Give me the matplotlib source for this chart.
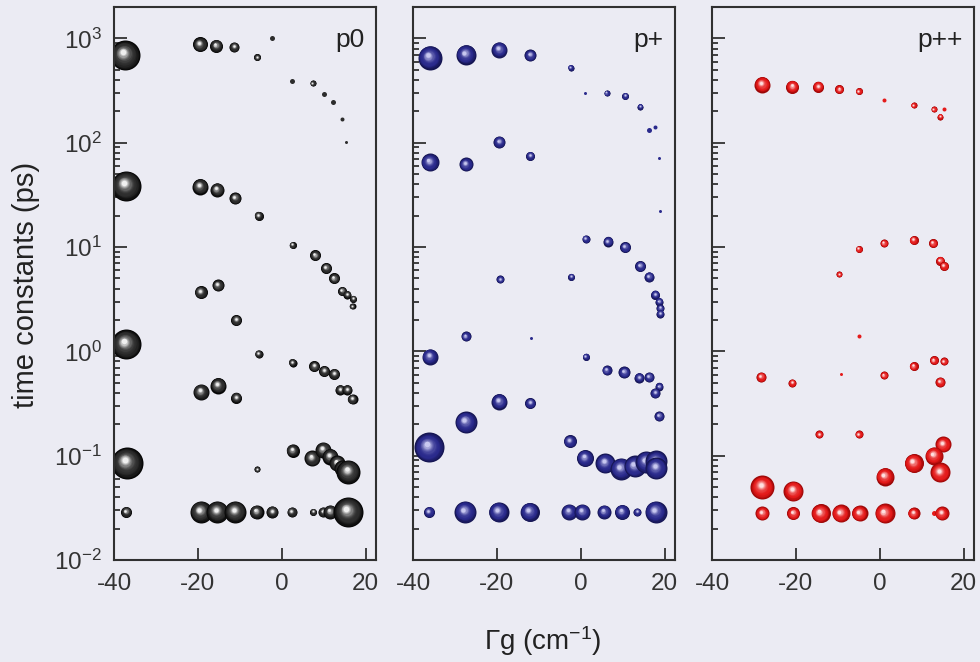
import numpy as np
import matplotlib
matplotlib.use("Agg")
import matplotlib.pyplot as plt
from matplotlib.transforms import offset_copy
from matplotlib.colors import to_rgb
from matplotlib.ticker import LogLocator, NullFormatter, NullLocator

plt.rcParams['font.family'] = ['Liberation Sans', 'DejaVu Sans']
plt.rcParams['mathtext.fontset'] = 'custom'
plt.rcParams['mathtext.rm'] = 'Liberation Sans'
plt.rcParams['mathtext.it'] = 'Liberation Sans:italic'
plt.rcParams['axes.unicode_minus'] = False

# p0 : Γg (cm-1), time constant (ps), amplitude (bubble radius)
p0_g = [-37.4, -19.5, -15.6, -11.3, -5.8, -2.2, 2.4, 7.4, 10.1, 12.3, 14.4, 15.4,
        -37.1, -19.5, -15.4, -11.1, -5.5, 2.6, 8.0, 10.6, 12.5, 14.4, 15.7, 17.1, 16.9,
        -19.3, -15.2, -10.8,
        -37.1, -19.3, -15.2, -10.8, -5.5, 2.6, 7.8, 10.2, 12.6, 14.0, 15.7, 16.9,
        -36.9, -5.8, 2.6, 7.2, 9.9, 11.6, 13.3, 14.5, 15.9,
        -37.1, -19.3, -15.4, -11.1, -6.0, -2.2, 2.4, 7.5, 9.9, 11.6, 15.9]
p0_tau = [690, 875, 850, 830, 660, 1000, 390, 370, 295, 245, 170, 102,
          38.7, 38, 35.5, 29.5, 20, 10.5, 8.3, 6.3, 5.0, 3.8, 3.5, 3.2, 2.7,
          3.7, 4.3, 2.0,
          1.17, 0.41, 0.47, 0.36, 0.95, 0.78, 0.72, 0.65, 0.61, 0.43, 0.43, 0.35,
          0.085, 0.074, 0.112, 0.095, 0.114, 0.098, 0.085, 0.076, 0.070,
          0.029, 0.029, 0.029, 0.029, 0.029, 0.029, 0.029, 0.029, 0.029, 0.029, 0.029]
p0_amp = [15, 7.5, 6.5, 5, 3.5, 2.5, 2.5, 3, 2.5, 2.5, 2, 1.5,
          15, 8, 7, 6, 4.5, 3.5, 5.5, 5.5, 5.5, 4.5, 4, 3.5, 3,
          6.5, 6, 5.5,
          15, 8, 8, 5.5, 4, 4, 5.5, 5.5, 5.5, 5, 5, 5,
          16, 3, 6.5, 8, 8, 8, 8, 8, 12,
          5.5, 11, 11, 11, 7, 6, 5, 3.5, 5, 7, 15]

# p+
pp_g = [-36.0, -27.4, -19.4, -12.0, -2.4, 1.0, 6.2, 10.6, 14.2, 16.3, 17.8, 18.7, 19.0,
        -36.0, -27.4, -19.4, -12.0,
        -19.2, -2.2, 1.2, 6.5, 10.6, 14.2, 16.3, 17.8, 18.7, 19.0, 19.0,
        -27.4, -11.8, -36.0, 1.2, 6.2, 10.4, 14.0, 16.3, 18.7, 17.8, 18.7, -19.4, -12.0,
        -27.4, -36.2, -2.6, 1.0, 5.8, 9.6, 12.9, 15.6, 18.0, 18.0,
        -36.2, -27.6, -19.6, -12.2, -2.8, 0.4, 5.6, 9.8, 13.5, 17.9]
pp_tau = [655, 700, 780, 690, 525, 300, 300, 282, 222, 133, 142, 72, 22,
          65, 62, 102, 75,
          4.9, 5.2, 12.0, 11.3, 10.0, 6.6, 5.2, 3.5, 3.0, 2.6, 2.3,
          1.39, 1.33, 0.89, 0.89, 0.66, 0.63, 0.56, 0.57, 0.46, 0.40, 0.24, 0.33, 0.32,
          0.21, 0.12, 0.138, 0.095, 0.085, 0.075, 0.079, 0.087, 0.088, 0.076,
          0.029, 0.029, 0.029, 0.029, 0.029, 0.029, 0.029, 0.029, 0.029, 0.029]
pp_amp = [12, 10, 8, 6, 3, 1.5, 3, 3.5, 3, 2.5, 2, 1.5, 1.5,
          9, 7, 6, 4.5,
          4, 3.5, 4, 5, 5.5, 5.5, 5, 4.5, 4, 4, 4,
          5, 1.5, 8, 3.5, 5, 6, 5, 5, 4, 5, 5, 8, 5.5,
          11, 15, 6.5, 8.5, 10, 11, 11, 11, 11, 11,
          5.5, 11, 10, 9.5, 8, 8, 7, 7.5, 4, 11]

# p++
ppp_g = [-28.0, -20.8, -14.6, -9.6, -5.0, 1.0, 8.1, 12.9, 15.3, 14.4,
         -9.6, -5.0, 1.0, 8.1, 12.7, 14.4, 15.3,
         -5.0, -28.3, -20.8, -9.3, 1.0, 8.1, 12.9, 15.3, 14.4,
         -14.4, -5.0, 15.1, 12.9, 8.1, 14.4, 1.2, -28.0, -20.6,
         -28.0, -20.6, -14.1, -9.3, -4.8, 1.2, 8.1, 12.9, 14.8]
ppp_tau = [361, 345, 345, 325, 310, 258, 228, 210, 210, 178,
           5.5, 9.6, 10.9, 11.7, 10.9, 7.4, 6.6,
           1.39, 0.57, 0.50, 0.61, 0.59, 0.72, 0.82, 0.80, 0.51,
           0.16, 0.16, 0.128, 0.10, 0.085, 0.069, 0.063, 0.050, 0.046,
           0.028, 0.028, 0.028, 0.028, 0.028, 0.028, 0.028, 0.028, 0.028]
ppp_amp = [8, 6.5, 5.5, 4.5, 3.5, 2, 3, 3, 2, 3,
           3, 3.5, 4, 4.5, 4.5, 4.5, 4.5,
           2, 5, 4, 1.5, 4, 4.5, 4.5, 4, 5,
           4, 4, 8, 9, 9.5, 10, 9, 12, 10,
           7, 6.5, 9.5, 9, 8, 10, 6, 2.5, 7]

labels = ['p0', 'p+', 'p++']
# dark edge, body, highlight
palettes = [('#050505', '#2c2c2c', '#f0f0f0'),
            ('#141450', '#2a2a8c', '#c8c8f0'),
            ('#9a0606', '#e41a1a', '#ffe0e0')]

bg = '#ebebf3'
fig = plt.figure(figsize=(9.8, 6.62), dpi=100, facecolor=bg)


def mix(c1, c2, t):
    a = np.array(to_rgb(c1))
    b = np.array(to_rgb(c2))
    return tuple(a + (b - a) * t)


def sphere(ax, x, y, r_px, pal):
    dark, body, light = pal
    r = r_px * 0.72
    if r_px <= 2.5:
        # tiny dots: plain filled circle
        ax.plot([x], [y], 'o', ms=2 * r, mfc=body, mec='none')
        return
    n = 14
    for k in range(n):
        f = 1 - 0.88 * k / n
        t = k / (n - 1)
        if t < 0.3:
            col = mix(dark, body, t / 0.3)
        else:
            col = mix(body, light, ((t - 0.3) / 0.7) ** 2.2)
        shift = (1 - f) * r * 0.3
        tr = offset_copy(ax.transData, fig=fig, x=-shift * 0.6, y=shift * 0.8, units='points')
        ax.plot([x], [y], 'o', ms=2 * r * f, mfc=col, mec='none', transform=tr)


data = [(p0_g, p0_tau, p0_amp), (pp_g, pp_tau, pp_amp), (ppp_g, ppp_tau, ppp_amp)]
lefts = [114 / 980, 413 / 980, 712 / 980]
for i, (g, tau, amp) in enumerate(data):
    ax = fig.add_axes([lefts[i], 102 / 662, 262 / 980, 553 / 662])
    ax.set_facecolor(bg)
    ax.set_yscale('log')
    ax.set_xlim(-40, 22.5)
    ax.set_ylim(0.01, 2000)
    for x, y, a in zip(g, tau, amp):
        sphere(ax, x, y, a, palettes[i])
    ax.set_xticks([-40, -20, 0, 20])
    ax.xaxis.set_minor_locator(NullLocator())
    ax.yaxis.set_major_locator(LogLocator(base=10, numticks=10))
    ax.yaxis.set_minor_locator(LogLocator(base=10, subs=np.arange(2, 10), numticks=20))
    ax.yaxis.set_minor_formatter(NullFormatter())
    ax.tick_params(which='both', direction='in', top=False, right=False,
                   color='#222222', width=1.2)
    ax.tick_params(which='major', length=9, labelsize=17.5, pad=9, labelcolor='#333333')
    ax.tick_params(which='minor', length=4.5)
    if i > 0:
        ax.tick_params(labelleft=False)
    for s in ax.spines.values():
        s.set_linewidth(1.5)
        s.set_color('#303030')
    ax.text(0.955, 0.94, labels[i], transform=ax.transAxes, ha='right', va='center',
            fontsize=19, color='#222222')

fig.text(26 / 980, 1 - 285 / 662, 'time constants (ps)', rotation=90, ha='center',
         va='center', fontsize=21, color='#222222')
fig.text(543 / 980, 1 - 641 / 662, r'Γg (cm$^{-1}$)', ha='center', va='center',
         fontsize=20, color='#222222')

fig.savefig('out.png', dpi=100, facecolor=bg)
